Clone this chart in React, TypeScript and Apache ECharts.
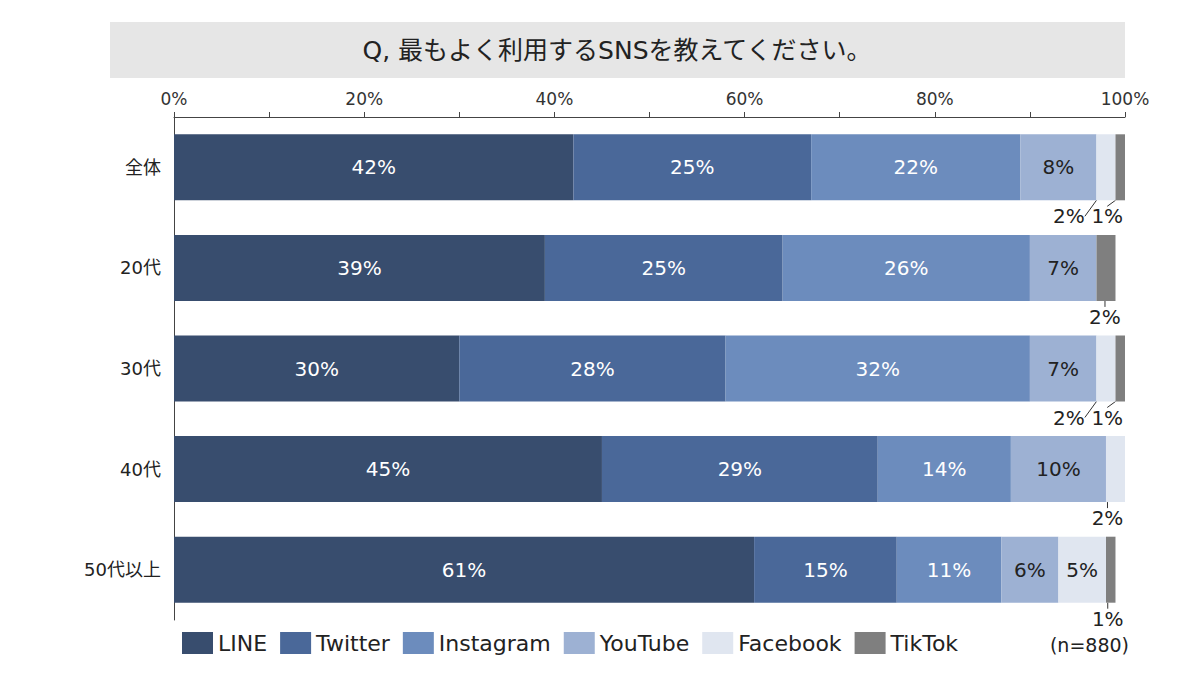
import { useEffect, useRef } from 'react';
import * as echarts from 'echarts';

const categories = ['全体', '20代', '30代', '40代', '50代以上'];
const seriesNames = ['LINE', 'Twitter', 'Instagram', 'YouTube', 'Facebook', 'TikTok'];
const lineVals = [42, 39, 30, 45, 61];
const twitterVals = [25, 25, 28, 29, 15];
const instagramVals = [22, 26, 32, 14, 11];
const youtubeVals = [8, 7, 7, 10, 6];
const facebookVals = [2, 0, 2, 2, 5];
const tiktokVals = [1, 2, 1, 0, 1];
const xTicks = [0, 20, 40, 60, 80, 100];

const colors = ['#384d6e', '#4a6899', '#6c8cbd', '#9db1d3', '#e0e6f0', '#7f7f7f'];
const labelColors = ['#ffffff', '#ffffff', '#ffffff', '#222222', '#222222', '#222222'];
// horizontal shift of labels that sit below the bar (null = label inside bar)
const outsideShift: Record<string, (number | null)[]> = {
  Facebook: [-37, null, -37, -8, null],
  TikTok: [-13, -1, -13, null, -3],
};

const FONT = '"DejaVu Sans", "Noto Sans CJK JP", sans-serif';

export default function App() {
  const ref = useRef<HTMLDivElement>(null);

  useEffect(() => {
    if (!ref.current) return;
    const chart = echarts.init(ref.current, undefined, { renderer: 'svg' });
    const values = [lineVals, twitterVals, instagramVals, youtubeVals, facebookVals, tiktokVals];

    const series = seriesNames.map((name, si) => {
      const shifts = outsideShift[name];
      return {
        name,
        type: 'bar',
        stack: 'total',
        barWidth: 66,
        itemStyle: { color: colors[si] },
        data: values[si].map((v, i) => {
          const out = shifts && shifts[i] != null;
          return {
            value: v,
            label: out ? { color: '#222' } : undefined,
            labelLine: { show: !!out, lineStyle: { color: '#333', width: 1 } },
          };
        }),
        label: {
          show: true,
          position: 'inside',
          color: labelColors[si],
          fontSize: 20,
          fontFamily: FONT,
          formatter: (p: any) => (p.value > 0 ? p.value + '%' : ''),
        },
        labelLine: { show: false },
        labelLayout: shifts
          ? (p: any) => {
              const s = shifts[p.dataIndex];
              if (s == null) return {};
              return {
                x: p.rect.x + p.rect.width / 2 + s,
                y: p.rect.y + p.rect.height + 16,
                align: 'center',
                verticalAlign: 'middle',
              };
            }
          : undefined,
      };
    });

    chart.setOption({
      animation: false,
      textStyle: { fontFamily: FONT },
      grid: { left: 174, right: 75, top: 117, bottom: 55 },
      graphic: [
        {
          type: 'rect',
          shape: { x: 110, y: 22, width: 1015, height: 56 },
          style: { fill: '#e6e6e6' },
          silent: true,
        },
        {
          type: 'text',
          x: 617,
          y: 50,
          style: {
            text: 'Q, 最もよく利用するSNSを教えてください。',
            fontSize: 25,
            fontFamily: FONT,
            fill: '#222',
            align: 'center',
            verticalAlign: 'middle',
          },
        },
        {
          type: 'text',
          x: 1129,
          y: 645,
          style: {
            text: '(n=880)',
            fontSize: 19,
            fontFamily: FONT,
            fill: '#222',
            align: 'right',
            verticalAlign: 'middle',
          },
        },
      ],
      legend: {
        data: seriesNames,
        left: 182,
        top: 632,
        padding: 0,
        itemWidth: 31,
        itemHeight: 22,
        itemGap: 13,
        icon: 'rect',
        textStyle: { fontSize: 22, color: '#222', fontFamily: FONT },
      },
      xAxis: {
        type: 'value',
        position: 'top',
        min: xTicks[0],
        max: xTicks[xTicks.length - 1],
        interval: 10,
        axisLine: { show: true, lineStyle: { color: '#444', width: 1 } },
        axisTick: { show: true, length: 5, lineStyle: { color: '#444' } },
        splitLine: { show: false },
        axisLabel: {
          color: '#333',
          fontSize: 17,
          fontFamily: FONT,
          margin: 10,
          formatter: (v: number) => (xTicks.includes(v) ? v + '%' : ''),
        },
      },
      yAxis: {
        type: 'category',
        inverse: true,
        data: categories,
        axisLine: { show: true, lineStyle: { color: '#444', width: 1 } },
        axisTick: { show: false },
        axisLabel: { color: '#222', fontSize: 18, fontFamily: FONT, margin: 13 },
      },
      series,
    });

    return () => {
      chart.dispose();
    };
  }, []);

  return (
    <div
      ref={ref}
      style={{ position: 'fixed', left: 0, top: 0, width: 1200, height: 675, background: '#fff' }}
    />
  );
}
